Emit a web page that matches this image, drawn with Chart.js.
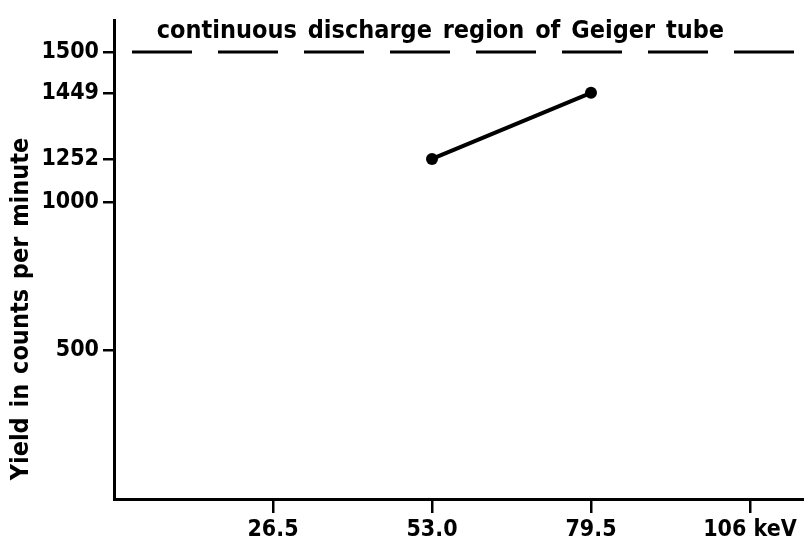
<!DOCTYPE html>
<html>
<head>
<meta charset="utf-8">
<script src="https://cdn.jsdelivr.net/npm/chart.js@4"></script>
<style>
  body { margin: 0; background: #fff; }
  #wrap { width: 804px; height: 548px; }
</style>
</head>
<body>
<div id="wrap"><canvas id="yieldCanvas" width="804" height="548"></canvas></div>
<script>
const energies = [53.0, 79.5];
const yieldCounts = [1252, 1449];
const xTicks = [26.5, 53.0, 79.5, 106];
const xTickLabels = ['26.5', '53.0', '79.5', '106 keV'];
const yTicks = [500, 1000, 1252, 1449, 1500];
const dischargeLevel = 1500;
const xRange = [0, 115];
const yRange = [0, 1607];

// the printed y axis is not uniform: value -> fraction of axis height
const yWarpValues = [0, 1000, 1252, 1449, 1500, 1607];
const yWarpStops = [0, 0.620, 0.710, 0.848, 0.933, 1];

function interp(v, from, to) {
    for (let i = 1; i < from.length; i++) {
        if (v <= from[i] || i === from.length - 1) {
            const t = (v - from[i - 1]) / (from[i] - from[i - 1]);
            return to[i - 1] + t * (to[i] - to[i - 1]);
        }
    }
}

class WarpScale extends Chart.LinearScale {
    getPixelForValue(value) {
        return this.getPixelForDecimal(interp(value, yWarpValues, yWarpStops));
    }
    getValueForPixel(pixel) {
        return interp(this.getDecimalForPixel(pixel), yWarpStops, yWarpValues);
    }
}
WarpScale.id = 'warp';
WarpScale.defaults = Chart.LinearScale.defaults;
Chart.register(WarpScale);

const FONT = 'DejaVu Sans Condensed';

const labelsPlugin = {
    id: 'labels',
    afterDraw(chart) {
        const ctx = chart.ctx;
        const x = chart.scales.x, y = chart.scales.y;
        ctx.save();
        ctx.fillStyle = '#000';
        ctx.font = 'bold 25px "' + FONT + '"';
        ctx.textAlign = 'center';
        ctx.textBaseline = 'alphabetic';
        ctx.wordSpacing = '3px';
        ctx.fillText('continuous discharge region of Geiger tube', x.getPixelForValue(54.4), y.getPixelForValue(dischargeLevel) - 14);
        ctx.wordSpacing = '2px';
        ctx.translate(21, 309);
        ctx.rotate(-Math.PI / 2);
        ctx.textBaseline = 'middle';
        ctx.fillText('Yield in counts per minute', 0, 0);
        ctx.restore();
    }
};

const ctxYield = document.getElementById('yieldCanvas').getContext('2d');
const yieldChart = new Chart(ctxYield, {
    type: 'line',
    data: {
        datasets: [
            {
                label: 'Yield',
                data: energies.map((e, i) => ({ x: e, y: yieldCounts[i] })),
                borderColor: '#000',
                backgroundColor: '#000',
                borderWidth: 4,
                pointRadius: 6,
                pointBorderWidth: 0,
                tension: 0
            },
            {
                label: 'Continuous discharge',
                data: [{ x: xRange[0], y: dischargeLevel }, { x: xRange[1], y: dischargeLevel }],
                borderColor: '#000',
                borderWidth: 3,
                borderDash: [60, 26],
                borderDashOffset: 68,
                pointRadius: 0
            }
        ]
    },
    options: {
        responsive: false,
        animation: false,
        layout: { autoPadding: false, padding: { top: 20, left: 0, right: 0, bottom: 0 } },
        plugins: { legend: { display: false }, tooltip: { enabled: false } },
        scales: {
            x: {
                type: 'linear',
                min: xRange[0],
                max: xRange[1],
                afterFit(scale) {
                    scale.height = 49;
                    scale.paddingLeft = 0;
                    scale.paddingRight = 0;
                },
                afterBuildTicks(scale) { scale.ticks = xTicks.map(v => ({ value: v })); },
                grid: { drawOnChartArea: false, tickLength: 14, lineWidth: 2.5, color: '#000' },
                border: { display: true, width: 3, color: '#000' },
                ticks: {
                    color: '#000',
                    padding: 3,
                    maxRotation: 0,
                    font: { family: FONT, weight: 'bold', size: 23 },
                    callback: (v) => xTickLabels[xTicks.indexOf(v)]
                }
            },
            y: {
                type: 'warp',
                min: yRange[0],
                max: yRange[1],
                afterFit(scale) { scale.width = 114; },
                afterBuildTicks(scale) { scale.ticks = yTicks.map(v => ({ value: v })); },
                grid: { drawOnChartArea: false, tickLength: 11, lineWidth: 2.5, color: '#000' },
                border: { display: true, width: 3, color: '#000' },
                ticks: {
                    color: '#000',
                    padding: 4,
                    font: { family: FONT, weight: 'bold', size: 23 },
                    callback: (v) => String(v)
                }
            }
        }
    },
    plugins: [labelsPlugin]
});
</script>
</body>
</html>
